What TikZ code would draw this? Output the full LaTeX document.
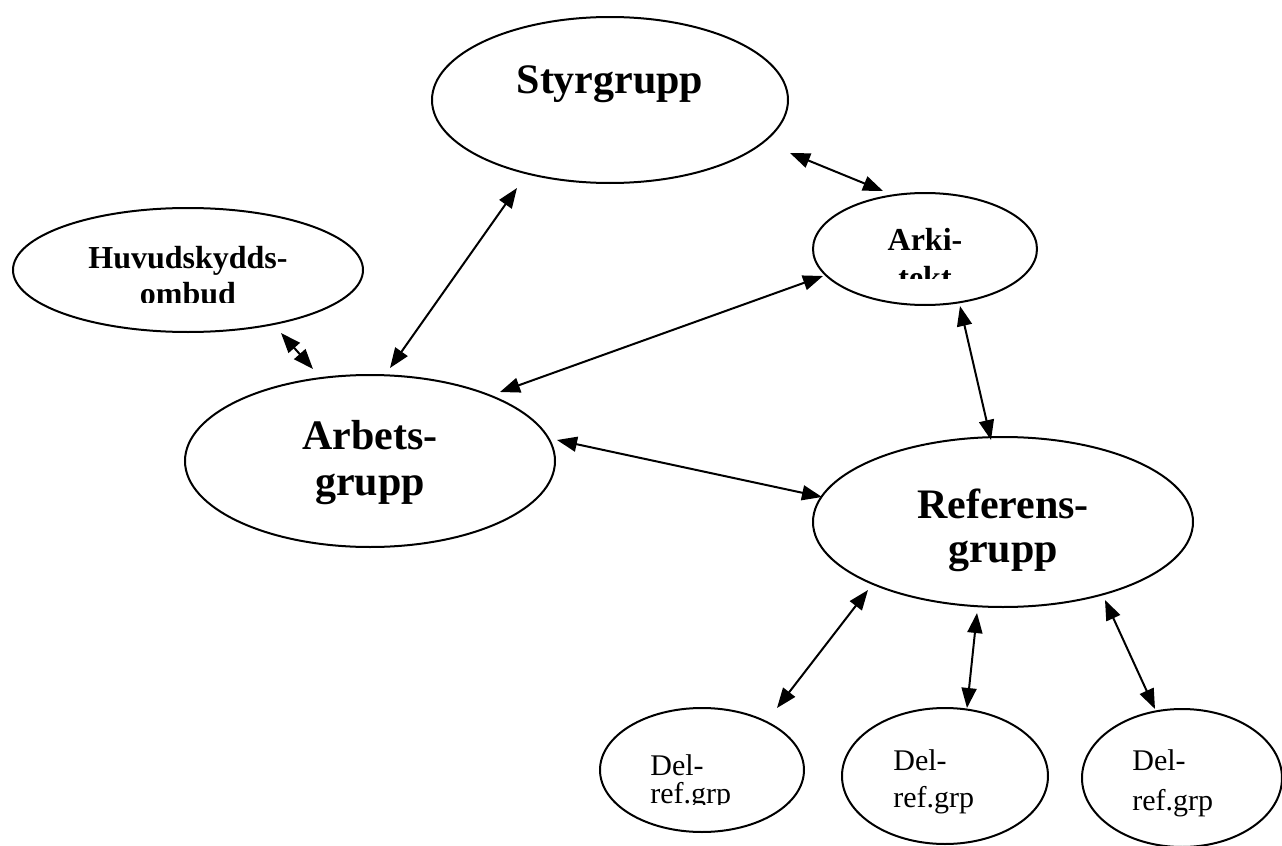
\documentclass[tikz,border=0pt]{standalone}
\usepackage{fontspec}
\setmainfont{Liberation Serif}
\usetikzlibrary{shapes.geometric,arrows.meta}
\begin{document}
\begin{tikzpicture}[x=0.5pt,y=-0.5pt,
  ell/.style={draw,ellipse,line width=1pt,inner sep=0pt},
  conn/.style={line width=1pt,{Triangle[length=10pt,width=7.5pt]}-{Triangle[length=10pt,width=7.5pt]}},
  bigtxt/.style={font=\bfseries\fontsize{21}{21}\selectfont,inner sep=0pt,anchor=base},
  midtxt/.style={font=\bfseries\fontsize{16}{16}\selectfont,inner sep=0pt,anchor=base},
  deltxt/.style={font=\fontsize{15}{15}\selectfont,inner sep=0pt,anchor=base west}]
\useasboundingbox (0,0) rectangle (1282,846);
% ellipses
\node[ell,minimum width=178pt,minimum height=83pt] (styr) at (610,100) {};
\node[ell,minimum width=175pt,minimum height=62pt] (huv) at (188,270) {};
\node[ell,minimum width=112pt,minimum height=56pt] (arki) at (925,249) {};
\node[ell,minimum width=185pt,minimum height=86pt] (arb) at (370,461) {};
\node[ell,minimum width=190pt,minimum height=85pt] (ref) at (1003,522) {};
\node[ell,minimum width=102pt,minimum height=62pt] (del1) at (702,770) {};
\node[ell,minimum width=103pt,minimum height=68pt] (del2) at (945,776) {};
\node[ell,minimum width=100pt,minimum height=69pt] (del3) at (1182,778) {};
% texts
\node[bigtxt] (styrT) at (610,93) {Styrgrupp};
\node[midtxt] (huvT1) at (188,268) {Huvudskydds-};
\begin{scope}
\clip (0,0) rectangle (1282,302);
\node[midtxt] (huvT2) at (188,304) {ombud};
\end{scope}
\node[midtxt] (arkiT1) at (925,250) {Arki-};
\begin{scope}
\clip (0,0) rectangle (1282,278);
\node[midtxt] (arkiT2) at (925,288) {tekt};
\end{scope}
\node[bigtxt] (arbT1) at (370,449) {Arbets-};
\node[bigtxt] (arbT2) at (370,495) {grupp};
\node[bigtxt] (refT1) at (1003,518) {Referens-};
\node[bigtxt] (refT2) at (1003,562) {grupp};
\node[deltxt] (d1T1) at (650,775) {Del-};
\begin{scope}
\clip (0,0) rectangle (1282,804);
\node[deltxt] (d1T2) at (650,803) {ref.grp};
\end{scope}
\node[deltxt] (d2T1) at (893,770) {Del-};
\node[deltxt] (d2T2) at (893,807) {ref.grp};
\node[deltxt] (d3T1) at (1132,770) {Del-};
\node[deltxt] (d3T2) at (1132,810) {ref.grp};
% connector ends
\coordinate (sA) at (517,188); \coordinate (aS) at (390,368);
\coordinate (sK) at (790,153); \coordinate (kS) at (883,191);
\coordinate (hA) at (281,333); \coordinate (aH) at (313,369);
\coordinate (kA) at (823,276); \coordinate (aK) at (500,392);
\coordinate (kR) at (960,306); \coordinate (rK) at (991,440);
\coordinate (aR) at (557,440); \coordinate (rA) at (822,497);
\coordinate (r1) at (868,590); \coordinate (d1) at (777,708);
\coordinate (r2) at (977,613); \coordinate (d2) at (967,708);
\coordinate (r3) at (1105,600); \coordinate (d3) at (1155,709);
\draw[conn] (sA) -- (aS);
\draw[conn] (sK) -- (kS);
\draw[conn] (hA) -- (aH);
\draw[conn] (kA) -- (aK);
\draw[conn] (kR) -- (rK);
\draw[conn] (aR) -- (rA);
\draw[conn] (r1) -- (d1);
\draw[conn] (r2) -- (d2);
\draw[conn] (r3) -- (d3);
\end{tikzpicture}
\end{document}
